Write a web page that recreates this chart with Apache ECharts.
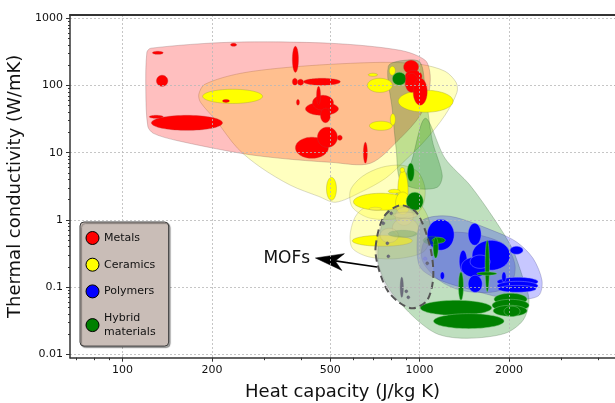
<!DOCTYPE html>
<html><head><meta charset="utf-8">
<script src="https://cdn.jsdelivr.net/npm/echarts@6.0.0/dist/echarts.min.js"></script>
<style>html,body{margin:0;padding:0;background:#fff;}#chart{width:615px;height:403px;}</style>
</head><body><div id="chart"></div>
<script>
// ---------- axis ticks ----------
const xTickValues = [100, 200, 500, 1000, 2000];
const xMinorTicks = [70, 80, 90, 300, 400, 600, 700, 800, 900, 3000, 4000];
const yTickValues = [0.01, 0.1, 1, 10, 100, 1000];
const yMinorTicks = [0.02,0.03,0.04,0.05,0.06,0.07,0.08,0.09,0.2,0.3,0.4,0.5,0.6,0.7,0.8,0.9,2,3,4,5,6,7,8,9,20,30,40,50,60,70,80,90,200,300,400,500,600,700,800,900];
const classNames = ['Metals', 'Ceramics', 'Polymers', 'Hybrid materials'];

// ---------- envelopes: vertices [heat capacity J/kgK, conductivity W/mK] ----------
const metalsEnvelope = [[120.7,312],[124.5,359],[231,440],[501,425],[861,334],[1045,237],[1086,142],[1070,71.5],[1005,36],[861,16.4],[683,6.96],[501,7.2],[340,8.25],[250,9.8],[151,15.3],[127,19.4],[121.6,24.7],[119.7,84.9]];
const ceramicsEnvelope1 = [[180.5,73.9],[189,104],[250,152],[397,193],[737,221],[1005,207],[1218,163],[1327,111.6],[1337,79.2],[1218,36],[1045,15.3],[895,7.71],[768,4.16],[632,2.57],[521,1.83],[457,2.24],[368,3.27],[291.5,6.06],[244,11.6],[206,30.4],[183,56.2]];
const ceramicsEnvelope2 = [[585,2.75],[642,4.45],[745,6.06],[875,6.49],[990,5.11],[1045,2.75],[1005,1.39],[861,1.057],[683,1.057],[594,1.54]];
const ceramicsEnvelope3 = [[585,0.654],[618,1.25],[726,1.96],[861,2.24],[1005,1.71],[1086,0.831],[1045,0.353],[861,0.268],[683,0.278],[594,0.378]];
const hybridEnvelope1 = [[785,193],[888,237],[1005,221],[1045,84.9],[1103,15.3],[1192,4.61],[1147,3.06],[967,2.95],[861,3.88],[835,10.9],[810,42.8]];
const hybridEnvelope2 = [[1045,32.5],[1218,8.25],[1480,3.27],[1796,0.986],[2049,0.378],[2214,0.15],[2337,0.0636],[2231,0.0321],[1941,0.0205],[1446,0.0173],[1156,0.0198],[967,0.0343],[796,0.0896],[726,0.234],[745,0.831],[829,2.32],[930,6.49]];
const polymersEnvelope1 = [[1021,0.986],[1268,1.13],[1824,0.654],[2130,0.464],[2411,0.268],[2584,0.126],[2525,0.0755],[2231,0.0658],[1867,0.0705],[1514,0.0896],[1174,0.126],[1005,0.197],[982,0.497]];
const polymersEnvelope2 = [[1045,0.497],[1268,0.654],[1600,0.59],[1941,0.419],[2097,0.211],[2018,0.106],[1729,0.0836],[1381,0.0896],[1165,0.126],[1021,0.251]];
const mofEnvelope = [[711,0.391],[756,1.093],[861,1.65],[982,1.25],[1086,0.391],[1112,0.14],[1061,0.0636],[952,0.0484],[861,0.0574],[779,0.0896],[726,0.197]];

// ---------- material ellipses: [cpMin, cpMax, kMin, kMax] ----------
const metalsEllipses = [
  [126,137,291,323],[130,142,97,142],[123,137,32.5,36],[125,217,21.5,36],[231,242,383,425],
  [217,229,56,62],[373,391,157,383],[373,388,101,128],[388,407,101,124],[407,541,101,128],
  [385,394,51,62],[413,533,36,56],[436,513,43,71.5],[450,464,52.5,97],[464,501,28,46],
  [382,493,8.25,17],[453,529,12,24],[529,549,15.3,18.2],[647,667,7,14.3],
  [884,992,150,237],[895,1019,113,168],[895,990,79,152],[952,1061,51,128]
];
const ceramicsEllipses = [
  [186,296,54,88],[672,722,137,152],[667,810,79,128],[791,829,142,193],[848,1297,40,85],
  [678,810,21.5,29.4],[797,829,25.6,38],[486,525,1.96,4.3],[599,916,1.39,2.49],
  [594,945,0.405,0.59],[845,915,1.3,5.5],[830,930,1.2,2.6],[860,890,5.1,6.0],[785,861,2.49,2.85]
];
const polymersEllipses = [
  [1061,1308,0.353,1.02],[1458,1612,0.419,0.89],[1503,2018,0.178,0.497],[2018,2231,0.308,0.405],
  [1360,1446,0.166,0.353],[1381,1702,0.14,0.278],[1458,1626,0.0836,0.15],[1480,1728,0.19,0.30],
  [1174,1213,0.13,0.168],[1824,2506,0.103,0.14],[1824,2506,0.0896,0.122],[1838,2470,0.0836,0.106],
  [1892,1956,0.119,0.168]
];
const hybridEllipses = [
  [810,902,101,157],[909,960,3.75,7],[902,1029,1.39,2.58],[1103,1220,0.45,0.55],[1111,1156,0.27,0.55],
  [1663,1719,0.085,0.5],[1559,1820,0.15,0.168],[1352,1406,0.0636,0.168],[1005,1751,0.038,0.0636],
  [1114,1926,0.0241,0.0403],[1782,2301,0.0536,0.081],[1755,2337,0.0436,0.0658],[1770,2301,0.0368,0.0536],
  [1926,2180,0.0365,0.052]
];
const ceramicsFaintEllipses = [[829,952,0.831,1.54],[810,990,0.55,1.06],[737,848,0.46,0.75],[817,982,1.06,1.3],[677,745,1.39,1.54]];
const hybridFaintEllipses = [[785,980,0.55,0.7],[1029,1192,0.43,0.57]];
const polymersFaintEllipses = [[1030,1060,0.25,0.28]];
const mofEllipses = [[794,812,1.19,1.32],[746,764,0.845,0.937],[770,788,0.426,0.472],[776,794,0.273,0.302],[1049,1074,0.215,0.238],[892,913,0.0823,0.0911],[906,927,0.067,0.0742],[861,882,0.0705,0.14]];

// ---------- annotation (data coordinates) ----------
const mofArrowTail = [719, 0.199];
const mofArrowTip = [446, 0.271];
const mofLabelAt = [357, 0.268];
const mofLabel = 'MOFs';

// ---------- styles ----------
const FONT = 'DejaVu Sans';
const xMin = 66.5, xMax = 4552, yMin = 0.0089, yMax = 1120;
const classColors = ['#ff0000', '#ffff00', '#0000ff', '#008000'];

function envelopeSeries(name, list, fill, stroke, extra) {
  return {
    type: 'custom', name: name, silent: true, clip: true, z: 2,
    data: [list[0]],
    renderItem: function (params, api) {
      const pts = list.map(function (p) { return api.coord(p); });
      return { type: 'polygon', shape: { points: pts, smooth: 0.3 },
        style: Object.assign({ fill: fill, stroke: stroke, lineWidth: 0.8 }, extra || {}) };
    }
  };
}
function ellipseSeries(name, list, fill, stroke, lw) {
  return {
    type: 'custom', name: name, silent: true, clip: true, z: 2,
    data: list, encode: { x: [0, 1], y: [2, 3] },
    renderItem: function (params, api) {
      const a = api.coord([api.value(0), api.value(2)]);
      const b = api.coord([api.value(1), api.value(3)]);
      const cx = (a[0] + b[0]) / 2, cy = (a[1] + b[1]) / 2;
      const rx = Math.abs(b[0] - a[0]) / 2, ry = Math.abs(b[1] - a[1]) / 2;
      const pts = [];
      for (let i = 0; i < 72; i++) { const t = i / 72 * 2 * Math.PI; pts.push([cx + rx * Math.cos(t), cy + ry * Math.sin(t)]); }
      return { type: 'polygon', shape: { points: pts }, style: { fill: fill, stroke: stroke, lineWidth: lw || 0.6 } };
    }
  };
}

const series = [
  envelopeSeries('Ceramics', ceramicsEnvelope1, 'rgba(255,255,0,0.25)', 'rgba(120,120,80,0.35)'),
  envelopeSeries('Metals', metalsEnvelope, 'rgba(255,0,0,0.25)', 'rgba(120,80,80,0.35)'),
  envelopeSeries('Ceramics', ceramicsEnvelope2, 'rgba(255,255,0,0.25)', 'rgba(120,120,80,0.3)'),
  envelopeSeries('Ceramics', ceramicsEnvelope3, 'rgba(255,255,0,0.25)', 'rgba(120,120,80,0.3)'),
  envelopeSeries('Hybrid materials', hybridEnvelope1, 'rgba(0,128,0,0.25)', 'rgba(60,100,60,0.35)'),
  envelopeSeries('Hybrid materials', hybridEnvelope2, 'rgba(0,128,0,0.25)', 'rgba(60,100,60,0.35)'),
  envelopeSeries('Polymers', polymersEnvelope1, 'rgba(0,0,255,0.22)', 'rgba(70,70,140,0.35)'),
  envelopeSeries('Polymers', polymersEnvelope2, 'rgba(0,0,255,0.18)', 'rgba(70,70,140,0.3)'),
  ellipseSeries('Polymers', polymersEllipses, '#0000ff', 'rgba(150,150,255,0.8)'),
  ellipseSeries('Ceramics', ceramicsEllipses, '#ffff00', 'rgba(150,150,60,0.6)'),
  ellipseSeries('Hybrid materials', hybridEllipses, '#008000', 'rgba(130,200,130,0.8)'),
  ellipseSeries('Metals', metalsEllipses, '#ff0000', 'rgba(190,60,60,0.6)'),
  ellipseSeries('Ceramics', ceramicsFaintEllipses, 'rgba(250,240,120,0.45)', 'rgba(170,160,90,0.5)'),
  ellipseSeries('Hybrid materials', hybridFaintEllipses, 'rgba(0,128,0,0.28)', 'rgba(90,150,90,0.4)'),
  ellipseSeries('Polymers', polymersFaintEllipses, 'rgba(90,90,255,0.45)', 'rgba(90,90,255,0.4)'),
  envelopeSeries('MOFs', mofEnvelope, 'rgba(175,175,185,0.4)', '#555555', { lineWidth: 2, lineDash: [7, 4] }),
  ellipseSeries('MOFs', mofEllipses, '#6c6c7c', 'rgba(90,90,100,0.6)'),
  {
    type: 'custom', name: 'annotation', silent: true, clip: false, z: 5,
    data: [mofArrowTip],
    renderItem: function (params, api) {
      const T = api.coord(mofArrowTip), S = api.coord(mofArrowTail), Lp = api.coord(mofLabelAt);
      const dx = T[0] - S[0], dy = T[1] - S[1], len = Math.sqrt(dx * dx + dy * dy);
      const ux = dx / len, uy = dy / len, vx = -uy, vy = ux;
      const L = 28, W = 8.5, n = 8;
      const B = [T[0] - ux * L, T[1] - uy * L];
      const N = [T[0] - ux * (L - n), T[1] - uy * (L - n)];
      const c1 = [B[0] + vx * W, B[1] + vy * W], c2 = [B[0] - vx * W, B[1] - vy * W];
      return { type: 'group', children: [
        { type: 'line', shape: { x1: S[0], y1: S[1], x2: N[0], y2: N[1] }, style: { stroke: '#000', lineWidth: 1.6 } },
        { type: 'polygon', shape: { points: [T, c1, N, c2] }, style: { fill: '#000', stroke: '#000', lineWidth: 0.5 } },
        { type: 'text', style: { text: mofLabel, x: Lp[0], y: Lp[1], align: 'center', verticalAlign: 'middle', fontSize: 17, fontFamily: FONT, fill: '#111' } }
      ] };
    }
  }
];

const gridLine = { show: true, lineStyle: { color: '#b8b8b8', type: [2, 2], width: 0.8 } };
const chart = echarts.init(document.getElementById('chart'), null, { renderer: 'canvas' });
chart.setOption({
  animation: false,
  backgroundColor: '#ffffff',
  textStyle: { fontFamily: FONT },
  grid: { left: 70, right: 0, top: 15, bottom: 45.3, containLabel: false, outerBoundsMode: 'none' },
  legend: {
    orient: 'vertical', left: 80, top: 222, z: 20, selectedMode: false,
    backgroundColor: '#c9bdb7', borderColor: '#3c3c3c', borderWidth: 1, borderRadius: 4,
    shadowColor: 'rgba(0,0,0,0.35)', shadowOffsetX: 1.5, shadowOffsetY: 1.5, shadowBlur: 1,
    padding: [9, 13, 7, 5.5], itemGap: 12.7, itemWidth: 13, itemHeight: 13,
    textStyle: { fontSize: 11, color: '#111', fontFamily: FONT, lineHeight: 14 },
    formatter: function (name) { return name === 'Hybrid materials' ? 'Hybrid\nmaterials' : name; },
    data: classNames.map(function (n, i) {
      return { name: n, icon: 'circle', itemStyle: { color: classColors[i], borderColor: '#000', borderWidth: 1 } };
    })
  },
  xAxis: [
    { type: 'log', min: xMin, max: xMax, position: 'bottom', z: 10,
      axisLine: { show: true, lineStyle: { color: '#333', width: 1.5 } },
      axisTick: { show: true, customValues: xTickValues, length: 4, lineStyle: { color: '#333', width: 1 } },
      axisLabel: { show: true, customValues: xTickValues, formatter: function (v) { return String(v); }, fontSize: 11, color: '#111', margin: 7, fontFamily: FONT },
      splitLine: gridLine, minorTick: { show: false }, minorSplitLine: { show: false },
      name: 'Heat capacity (J/kg K)', nameLocation: 'middle', nameGap: 26,
      nameTextStyle: { fontSize: 18, color: '#111', fontFamily: FONT } },
    { type: 'log', min: xMin, max: xMax, position: 'bottom', z: 10,
      axisLine: { show: false }, axisTick: { show: true, customValues: xMinorTicks, length: 2.5, lineStyle: { color: '#333', width: 1 } },
      axisLabel: { show: false }, splitLine: { show: false } },
    { type: 'log', min: xMin, max: xMax, position: 'top', z: 10,
      axisLine: { show: true, lineStyle: { color: '#333', width: 2 } }, axisTick: { show: false },
      axisLabel: { show: false }, splitLine: { show: false } }
  ],
  yAxis: [
    { type: 'log', min: yMin, max: yMax, position: 'left', z: 10,
      axisLine: { show: true, lineStyle: { color: '#333', width: 1.5 } },
      axisTick: { show: true, customValues: yTickValues, length: 4, lineStyle: { color: '#333', width: 1 } },
      axisLabel: { show: true, customValues: yTickValues, formatter: function (v) { return String(v); }, fontSize: 11, color: '#111', margin: 7, fontFamily: FONT },
      splitLine: gridLine, minorTick: { show: false },
      name: 'Thermal conductivity (W/mK)', nameLocation: 'middle', nameGap: 34, nameRotate: 90,
      nameTextStyle: { fontSize: 18, color: '#111', fontFamily: FONT } },
    { type: 'log', min: yMin, max: yMax, position: 'left', z: 10,
      axisLine: { show: false }, axisTick: { show: true, customValues: yMinorTicks, length: 2, lineStyle: { color: '#333', width: 1 } },
      axisLabel: { show: false }, splitLine: { show: false } }
  ],
  series: series
});
</script></body></html>
